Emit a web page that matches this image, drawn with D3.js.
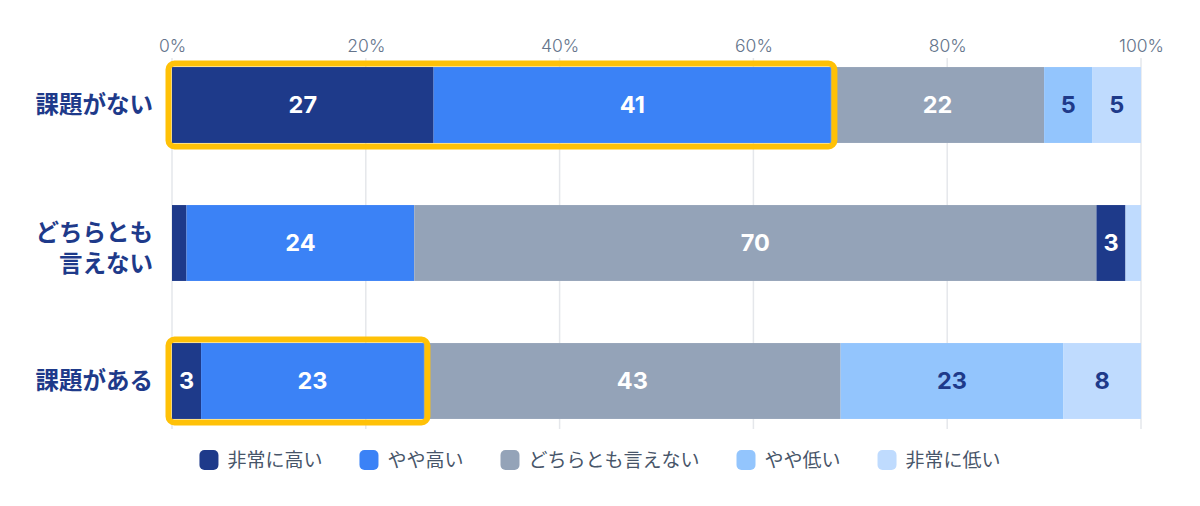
<!DOCTYPE html>
<html>
<head>
  <meta charset="utf-8">
  <title>課題の有無と評価</title>
  <script src="https://d3js.org/d3.v7.min.js"></script>
  <style>
    body { margin: 0; background: #fff; }
    svg { display: block; font-family: Inter, "Noto Sans CJK JP", sans-serif; }
  </style>
</head>
<body>
  <div id="chart"></div>

  <script>
    // 行（カテゴリ）と系列
    var categories = ['課題がない', 'どちらとも言えない', '課題がある'];
    var categoryLines = [['課題がない'], ['どちらとも', '言えない'], ['課題がある']];
    var seriesNames = ['非常に高い', 'やや高い', 'どちらとも言えない', 'やや低い', '非常に低い'];

    // 各行の値（%）
    var valuesNai   = [27, 41, 22, 5, 5];
    var valuesNeutral = [1.5, 23.5, 70.4, 3.0, 1.6];
    var valuesAru   = [3, 23, 43, 23, 8];
    var rowValues = [valuesNai, valuesNeutral, valuesAru];

    // 強調枠（行ごとの範囲 %）
    var highlightRows = ['課題がない', '課題がある'];
    var highlightEnds = [68, 26];

    var tickValues = [0, 20, 40, 60, 80, 100];

    // 色
    var colors = ['#1e3a8a', '#3b82f6', '#94a3b8', '#93c5fd', '#bfdbfe'];
    var labelColors = ['#ffffff', '#ffffff', '#ffffff', '#1e3a8a', '#1e3a8a'];
    // 元の図で「どちらとも言えない」行の 3 は濃紺で描かれている
    var cellOverride = { '1-3': { fill: '#1e3a8a', text: '#ffffff' } };

    var width = 1200, height = 506;
    var margin = { left: 172, right: 59 };

    var svg = d3.select('#chart').append('svg')
      .attr('width', width)
      .attr('height', height);

    var x = d3.scaleLinear()
      .domain([0, 100])
      .range([margin.left, width - margin.right]);

    var y = d3.scaleBand()
      .domain(categories)
      .range([36, 450])
      .paddingInner(0.45)
      .paddingOuter(0.225);

    // グリッド線
    svg.append('g')
      .selectAll('line')
      .data(tickValues)
      .enter().append('line')
        .attr('x1', function (d) { return x(d); })
        .attr('x2', function (d) { return x(d); })
        .attr('y1', 58)
        .attr('y2', 429)
        .attr('stroke', '#e5e7eb')
        .attr('stroke-width', 1.5);

    // 上部の目盛りラベル
    var axis = d3.axisTop(x)
      .tickValues(tickValues)
      .tickFormat(function (d) { return d + '%'; })
      .tickSize(0)
      .tickPadding(0);

    var axisG = svg.append('g')
      .attr('transform', 'translate(0,52)')
      .call(axis);
    axisG.select('.domain').remove();
    axisG.selectAll('text')
      .attr('dy', 0)
      .attr('fill', '#64748b')
      .style('font-size', '17.5px')
      .style('font-weight', 300)
      .style('font-family', 'Inter, "Noto Sans CJK JP", sans-serif');

    // 積み上げデータ
    var segments = [];
    rowValues.forEach(function (vals, r) {
      var start = 0;
      vals.forEach(function (v, s) {
        segments.push({ row: r, cat: categories[r], series: s, start: start, value: v });
        start += v;
      });
    });

    function fillOf(d) {
      var o = cellOverride[d.row + '-' + d.series];
      return o ? o.fill : colors[d.series];
    }
    function textOf(d) {
      var o = cellOverride[d.row + '-' + d.series];
      return o ? o.text : labelColors[d.series];
    }

    var bars = svg.append('g');
    bars.selectAll('rect')
      .data(segments)
      .enter().append('rect')
        .attr('x', function (d) { return x(d.start); })
        .attr('width', function (d) { return x(d.start + d.value) - x(d.start); })
        .attr('y', function (d) { return y(d.cat); })
        .attr('height', y.bandwidth())
        .attr('fill', fillOf);

    // 値ラベル（幅が狭い区分は省略）
    bars.selectAll('text')
      .data(segments.filter(function (d) { return d.value >= 2.5; }))
      .enter().append('text')
        .attr('x', function (d) { return x(d.start + d.value / 2); })
        .attr('y', function (d) { return y(d.cat) + y.bandwidth() / 2; })
        .attr('dy', '0.36em')
        .attr('text-anchor', 'middle')
        .attr('fill', textOf)
        .style('font-size', '23.5px')
        .style('font-weight', 700)
        .text(function (d) { return Math.round(d.value); });

    // 強調枠
    svg.append('g')
      .selectAll('rect')
      .data(highlightRows)
      .enter().append('rect')
        .attr('x', x(0) - 3.5)
        .attr('y', function (d) { return y(d) - 3.5; })
        .attr('width', function (d, i) { return x(highlightEnds[i]) - x(0) + 7; })
        .attr('height', y.bandwidth() + 7)
        .attr('rx', 6)
        .attr('fill', 'none')
        .attr('stroke', '#ffc107')
        .attr('stroke-width', 6);

    // 行ラベル
    var rowLabels = svg.append('g')
      .selectAll('text')
      .data(categories)
      .enter().append('text')
        .attr('text-anchor', 'end')
        .attr('fill', '#1e3a8a')
        .style('font-size', '23.5px')
        .style('font-weight', 700);

    rowLabels.each(function (d, i) {
      var lines = categoryLines[i];
      var cy = y(d) + y.bandwidth() / 2;
      var lh = 31;
      var shift = lines.length > 1 ? 5 : 0;
      d3.select(this).selectAll('tspan')
        .data(lines)
        .enter().append('tspan')
          .attr('x', 153)
          .attr('y', function (l, j) { return cy + shift + (j - (lines.length - 1) / 2) * lh; })
          .attr('dy', '0.36em')
          .text(function (l) { return l; });
    });

    // 凡例
    var legend = svg.append('g');
    var items = legend.selectAll('g')
      .data(seriesNames)
      .enter().append('g');

    items.append('rect')
      .attr('width', 19)
      .attr('height', 20)
      .attr('y', 450)
      .attr('rx', 5)
      .attr('fill', function (d, i) { return colors[i]; });

    items.append('text')
      .attr('x', 28)
      .attr('y', 460.5)
      .attr('dy', '0.36em')
      .attr('fill', '#475569')
      .style('font-size', '19px')
      .text(function (d) { return d; });

    var offsets = [];
    var cursor = 0;
    items.each(function () {
      var w = 28 + d3.select(this).select('text').node().getComputedTextLength();
      offsets.push(cursor);
      cursor += w + 37;
    });
    var total = cursor - 37;
    var startX = 600 - total / 2;
    items.attr('transform', function (d, i) { return 'translate(' + (startX + offsets[i]) + ',0)'; });
  </script>
</body>
</html>
